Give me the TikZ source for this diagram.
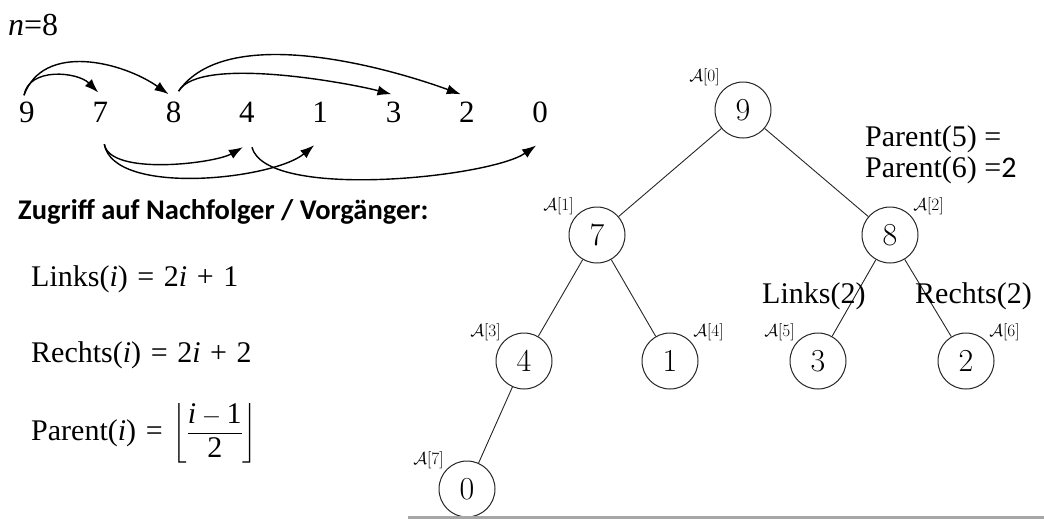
\documentclass[tikz,border=0pt]{standalone}
\usepackage{amsmath}
\usepackage{fontspec}
\newfontfamily\seqfont{Liberation Serif}
\newfontfamily\slidefont{Carlito}
\usetikzlibrary{arrows.meta, positioning, shapes}
\tikzset{
    heapnode/.style={circle, draw=black!85, line width=1pt, minimum size=56pt, inner sep=0pt, font=\fontsize{32}{32}\selectfont, label distance=5pt},
    heapedge/.style={draw=black!85, line width=0.9pt},
    idx/.style={font=\fontsize{19}{19}\selectfont, inner xsep=3pt, inner ysep=0pt},
    seqnode/.style={font=\seqfont\fontsize{31}{31}\selectfont, inner sep=2pt, anchor=base},
    myarrow/.style={-{Latex[length=14pt,width=10pt]}, line width=1.4pt, black},
    formel/.style={font=\seqfont\fontsize{30}{34}\selectfont, anchor=base west, inner sep=0pt},
    hint/.style={font=\seqfont\fontsize{30}{31}\selectfont, anchor=base west, inner sep=0pt},
    titel/.style={font=\slidefont\bfseries\fontsize{28.5}{30}\selectfont, anchor=base west, inner sep=0pt}
}
\newcommand{\gap}{\hspace{0.32em}}

\begin{document}
\begin{tikzpicture}[x=1pt, y=1pt]
    \useasboundingbox (0,0) rectangle (1044,-520);

        % ------------------
        % array
        % ------------------

        \node[hint, font=\seqfont\fontsize{32}{32}\selectfont] (size) at (8,-35) {\textit{n}=8};

        \foreach \v [count=\i from 0] in {9,7,8,4,1,3,2,0}
            \node[seqnode] (s\i) at ({27+73.3*\i},-122) {\v};

        \draw[myarrow] ([xshift=-3pt,yshift=4pt]s0.north) to[out=80, in=135] ([xshift=-2pt,yshift=7pt]s1.north);
        \draw[myarrow] ([xshift=-3pt,yshift=4pt]s0.north) to[out=70, in=145] ([xshift=-5pt,yshift=5pt]s2.north);
        \draw[myarrow] ([xshift=5pt,yshift=8pt]s2.north) to[out=60, in=165, looseness=0.5] ([xshift=-2pt,yshift=5pt]s5.north);
        \draw[myarrow] ([xshift=5pt,yshift=8pt]s2.north) to[out=55, in=160, looseness=0.75] ([xshift=-6pt,yshift=5pt]s6.north);

        \draw[myarrow] ([xshift=4pt,yshift=-20pt]s1.south) to[out=-80, in=-150, looseness=0.6] ([xshift=-4pt,yshift=-23pt]s3.south);
        \draw[myarrow] ([xshift=4pt,yshift=-20pt]s1.south) to[out=-80, in=-140, looseness=0.65] ([xshift=-6pt,yshift=-21pt]s4.south);
        \draw[myarrow] ([xshift=5pt,yshift=-23pt]s3.south) to[out=-75, in=-145, looseness=0.5] ([xshift=-4pt,yshift=-21pt]s7.south);

        % ------------------
        % formulas
        % ------------------

        \node[titel] (zugriff) at (18,-219) {Zugriff auf Nachfolger / Vorgänger:};
        \node[formel] (links) at (31,-286) {Links(\textit{i})\gap=\gap2\textit{i}\gap+\gap1};
        \node[formel] (rechts) at (31,-362) {Rechts(\textit{i})\gap=\gap2\textit{i}\gap+\gap2};
        \node[formel] (parent) at (31,-440) {Parent(\textit{i})\gap=\gap$\left\lfloor\dfrac{\textit{i} - \mbox{1}}{\mbox{2}}\right\rfloor$};

        % ------------------
        % heap
        % ------------------

        \node[heapnode, label={[idx, yshift=4pt]above left:$\mathcal{A}[0]$}] (h0) at (743,-110) {9};
        \node[heapnode, label={[idx]above left:$\mathcal{A}[1]$}] (h1) at (597,-235) {7};
        \node[heapnode, label={[idx]above right:$\mathcal{A}[2]$}] (h2) at (890,-235) {8};
        \node[heapnode, label={[idx]above left:$\mathcal{A}[3]$}] (h3) at (524,-361) {4};
        \node[heapnode, label={[idx]above right:$\mathcal{A}[4]$}] (h4) at (670,-361) {1};
        \node[heapnode, label={[idx]above left:$\mathcal{A}[5]$}] (h5) at (818,-361) {3};
        \node[heapnode, label={[idx]above right:$\mathcal{A}[6]$}] (h6) at (966,-361) {2};
        \node[heapnode, label={[idx]above left:$\mathcal{A}[7]$}] (h7) at (467,-489) {0};

        \draw[heapedge] (h0) -- (h1);
        \draw[heapedge] (h0) -- (h2);
        \draw[heapedge] (h1) -- (h3);
        \draw[heapedge] (h1) -- (h4);
        \draw[heapedge] (h2) -- (h5);
        \draw[heapedge] (h2) -- (h6);
        \draw[heapedge] (h3) -- (h7);

        \node[hint] (par5) at (865,-146) {Parent(5) =};
        \node[hint] (par6) at (865,-177) {Parent(6) =\slidefont 2};
        \node[hint] (links2) at (762,-303) {Links(2)};
        \node[hint] (rechts2) at (915,-303) {Rechts(2)};

        \draw[gray!70, line width=3pt] (408,-517) -- (1044,-517);

\end{tikzpicture}
\end{document}
